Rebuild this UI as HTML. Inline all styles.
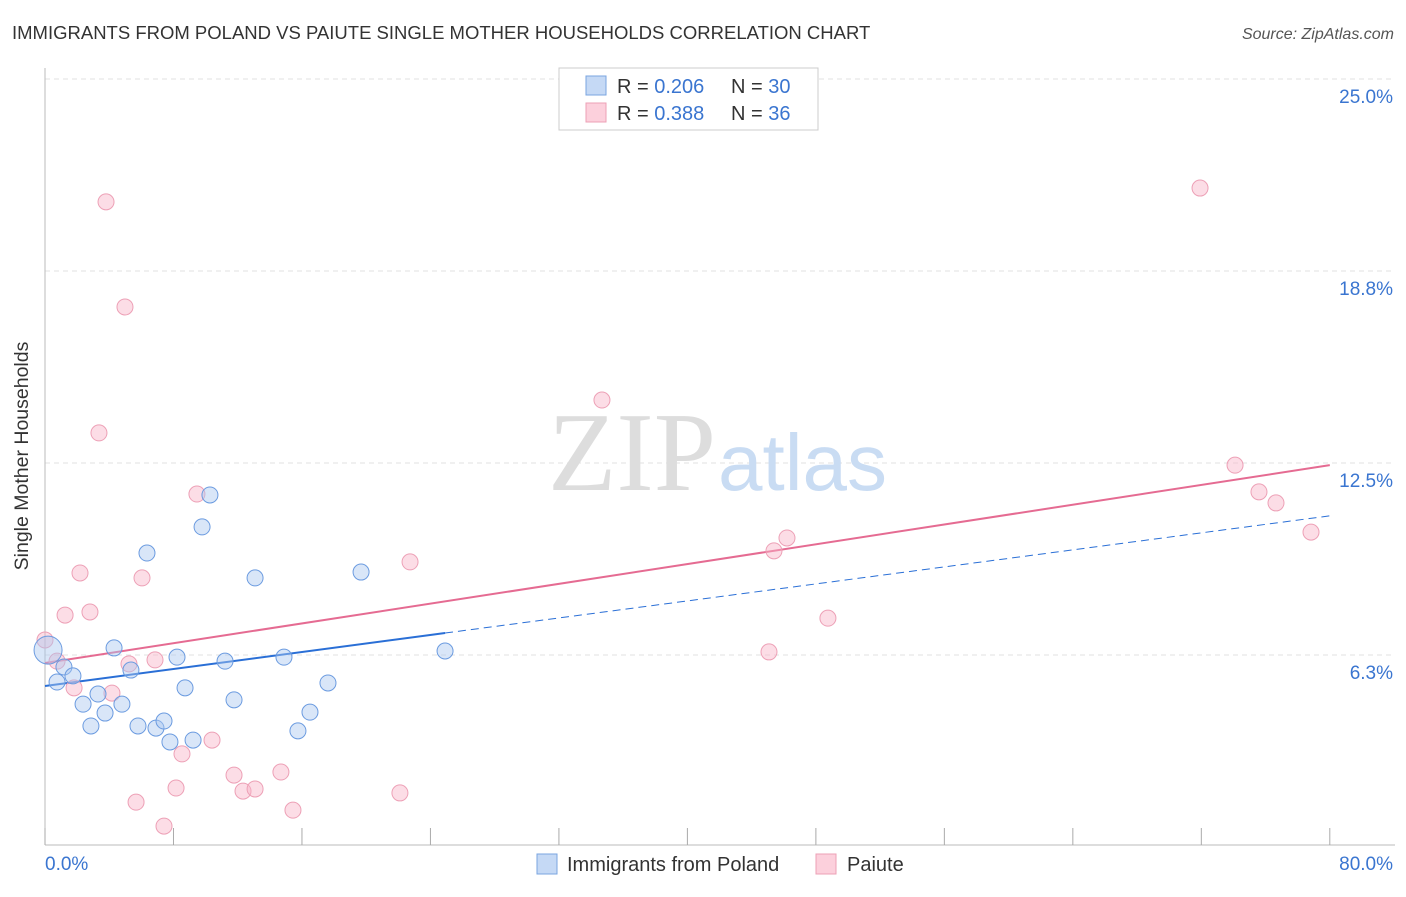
<!DOCTYPE html>
<html><head><meta charset="utf-8"><style>
body{margin:0;background:#fff;font-family:"Liberation Sans",sans-serif}
svg text{font-family:"Liberation Sans",sans-serif}
</style></head><body>
<svg id="c" width="1406" height="892">
<text x="12" y="39" font-size="18.5" fill="#333">IMMIGRANTS FROM POLAND VS PAIUTE SINGLE MOTHER HOUSEHOLDS CORRELATION CHART</text>
<text x="1394" y="39" font-size="16" fill="#555" font-style="italic" text-anchor="end">Source: ZipAtlas.com</text>
<g id="grid"></g>
<text x="716" y="490" font-size="112" fill="#ddd" text-anchor="end" style="font-family:'Liberation Serif',serif">ZIP</text>
<text x="718" y="490" font-size="80" fill="#c9dcf3">atlas</text>
<line x1="45" y1="68" x2="45" y2="845" stroke="#bbb"/>
<line x1="45" y1="845" x2="1395" y2="845" stroke="#bbb"/>
<g id="ticks"></g>
<g id="lines"></g>
<g id="pts"></g>
<text x="28" y="456" font-size="19.5" fill="#333" text-anchor="middle" transform="rotate(-90 28 456)">Single Mother Households</text>
<text x="45" y="870" font-size="19" fill="#3a75d0">0.0%</text>
<text x="1393" y="870" font-size="19" fill="#3a75d0" text-anchor="end">80.0%</text>
<g>
<rect x="559" y="68" width="259" height="62" fill="#fff" stroke="#ccc"/>
<rect x="586" y="76" width="20" height="19" fill="#c5d9f5" stroke="#7aa5e0"/>
<rect x="586" y="103" width="20" height="19" fill="#fcd0dc" stroke="#eda0b6"/>
<text x="617" y="93" font-size="20" fill="#333">R = <tspan fill="#3a75d0">0.206</tspan><tspan x="731">N = </tspan><tspan fill="#3a75d0">30</tspan></text>
<text x="617" y="120" font-size="20" fill="#333">R = <tspan fill="#3a75d0">0.388</tspan><tspan x="731">N = </tspan><tspan fill="#3a75d0">36</tspan></text>
</g>
<g><rect x="537" y="854" width="20" height="20" fill="#c5d9f5" stroke="#7aa5e0"/><text x="567" y="871" font-size="20" fill="#333">Immigrants from Poland</text></g>
<g><rect x="816" y="854" width="20" height="20" fill="#fcd0dc" stroke="#eda0b6"/><text x="847" y="871" font-size="20" fill="#333">Paiute</text></g>
</svg>
<script>
const yTicks=[6.25,12.5,18.75,25];
const yTickLabels=["6.3%","12.5%","18.8%","25.0%"];
const blueX=[0.19,0.75,1.18,1.74,2.37,2.86,3.30,3.74,4.30,4.79,5.35,5.79,6.35,6.91,7.41,7.78,8.22,8.72,9.22,9.78,10.27,11.21,11.77,13.08,14.88,15.75,16.50,17.62,19.68,24.91];
const blueY=[6.41,5.37,5.86,5.57,4.65,3.94,4.98,4.36,6.48,4.65,5.76,3.94,9.57,3.87,4.10,3.42,6.18,5.18,3.48,10.42,11.46,6.05,4.79,8.76,6.18,3.78,4.39,5.34,8.95,6.38];
const pinkX=[0,0.75,1.25,1.81,2.18,2.80,3.36,3.80,4.17,4.98,5.23,5.67,6.04,6.85,7.41,8.16,8.53,9.46,10.40,11.77,12.33,13.08,14.69,15.44,22.10,22.73,34.68,45.08,45.39,46.20,48.75,71.92,74.10,75.59,76.65,78.83];
const pinkY=[6.74,6.05,7.55,5.18,8.92,7.65,13.48,21.0,5.01,17.58,5.96,1.46,8.76,6.09,0.68,1.92,3.03,11.49,3.48,2.34,1.82,1.89,2.44,1.20,1.76,9.28,14.55,6.35,9.64,10.06,7.45,21.45,12.43,11.56,11.20,10.25];
const blueLine=[5.24,10.78];
const pinkLine=[5.99,12.43];
const NS="http://www.w3.org/2000/svg";
const X=v=>45+v*16.06, Y=v=>847-v*30.72;
function mk(t,a,p){const e=document.createElementNS(NS,t);for(const k in a)e.setAttribute(k,a[k]);p.appendChild(e);return e;}
const grid=document.getElementById('grid');
yTicks.forEach((t,i)=>{
 const l=mk('line',{x1:45,x2:1395,y1:Y(t),y2:Y(t),stroke:'#e2e2e2','stroke-dasharray':'5,4'},grid);
 
 
 const tx=mk('text',{x:1393,y:Y(t)+24,'font-size':19,fill:'#3a75d0','text-anchor':'end'},grid);
 tx.textContent=yTickLabels[i];
 
 
});
const tk=document.getElementById('ticks');
for(let i=0;i<=10;i++){const l=mk('line',{x1:X(i*8),x2:X(i*8),y1:828,y2:845,stroke:'#aaa'},tk);
 
 }
const ln=document.getElementById('lines');
const bEnd=24.91;
let e=mk('line',{x1:X(0),y1:Y(blueLine[0]),x2:X(bEnd),y2:Y(blueLine[0]+(blueLine[1]-blueLine[0])*bEnd/80),stroke:'#2a6fd6','stroke-width':2},ln);


e=mk('line',{x1:X(bEnd),y1:Y(blueLine[0]+(blueLine[1]-blueLine[0])*bEnd/80),x2:X(80),y2:Y(blueLine[1]),stroke:'#2a6fd6','stroke-width':1,'stroke-dasharray':'8,5'},ln);


e=mk('line',{x1:X(0),y1:Y(pinkLine[0]),x2:X(80),y2:Y(pinkLine[1]),stroke:'#e56b92','stroke-width':2},ln);


const pts=document.getElementById('pts');
pinkX.forEach((x,i)=>{const c=mk('circle',{cx:X(x),cy:Y(pinkY[i]),r:8,fill:'rgba(248,180,200,0.45)',stroke:'#eda0b6','stroke-width':1},pts);
 
 });
blueX.forEach((x,i)=>{const c=mk('circle',{cx:X(x),cy:Y(blueY[i]),r:i==0?14:8,fill:'rgba(170,200,240,0.45)',stroke:'#6b9be0','stroke-width':1},pts);
 
 });
</script>
</body></html>
